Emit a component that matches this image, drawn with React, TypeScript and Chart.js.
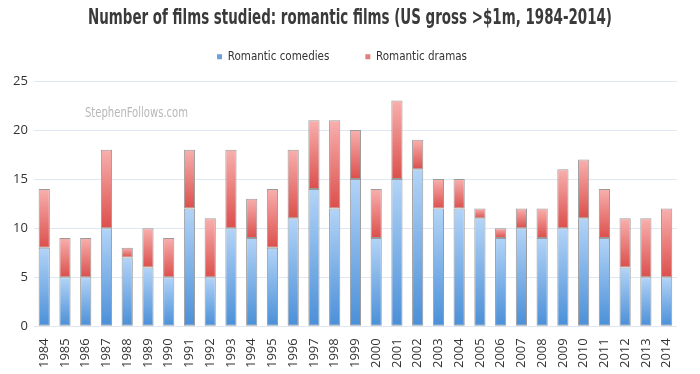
import React, { useEffect, useRef } from "react";
import { Chart, registerables } from "chart.js";

Chart.register(...registerables);

const years = ["1984","1985","1986","1987","1988","1989","1990","1991","1992","1993","1994","1995","1996","1997","1998","1999","2000","2001","2002","2003","2004","2005","2006","2007","2008","2009","2010","2011","2012","2013","2014"];
const comedies = [8,5,5,10,7,6,5,12,5,10,9,8,11,14,12,15,9,15,16,12,12,11,9,10,9,10,11,9,6,5,5];
const dramas = [6,4,4,8,1,4,4,6,6,8,4,6,7,7,9,5,5,8,3,3,3,1,1,2,3,6,6,5,5,6,7];
const yTicks = [0, 5, 10, 15, 20, 25];
const titleText = "Number of films studied: romantic films (US gross >$1m, 1984-2014)";
const watermarkText = "StephenFollows.com";

const COND = "'DejaVu Sans Condensed', 'Liberation Sans', sans-serif";

function segGradient(ctx: any, light: string, dark: string, fallback: string, base: number[] | null) {
  const chart = ctx.chart;
  const y = chart.scales && chart.scales.y;
  if (!chart.chartArea || !y || ctx.type !== "data") return fallback;
  const i = ctx.dataIndex;
  const v = ctx.raw as number;
  const start = base ? base[i] : 0;
  const top = y.getPixelForValue(start + v);
  const bottom = y.getPixelForValue(start);
  if (!isFinite(top) || !isFinite(bottom) || top === bottom) return fallback;
  const g = chart.ctx.createLinearGradient(0, top, 0, bottom);
  g.addColorStop(0, light);
  g.addColorStop(1, dark);
  return g;
}

function drawSqueezed(c: CanvasRenderingContext2D, text: string, cx: number, cy: number, font: string, color: string, targetW: number, align: "center" | "left") {
  c.save();
  c.font = font;
  c.fillStyle = color;
  c.textBaseline = "middle";
  c.textAlign = "left";
  const w = c.measureText(text).width;
  const s = targetW / w;
  const x0 = align === "center" ? cx - targetW / 2 : cx;
  c.translate(x0, cy);
  c.scale(s, 1);
  c.fillText(text, 0, 0);
  c.restore();
}

const decorations = {
  id: "decorations",
  beforeInit(chart: any) {
    const lg = chart.legend;
    if (lg) {
      const orig = lg.fit;
      lg.fit = function () {
        orig.call(this);
        this.height = 66;
      };
    }
  },
  afterDraw(chart: any) {
    const c = chart.ctx as CanvasRenderingContext2D;
    drawSqueezed(c, titleText, 350, 19, "bold 21px " + COND, "#3a3a3a", 524, "center");
  },
  afterDatasetsDraw(chart: any) {
    const c = chart.ctx as CanvasRenderingContext2D;
    drawSqueezed(c, watermarkText, 85, 113, "14px " + COND, "#b8b8b8", 103, "left");
  },
};

export default function App() {
  const ref = useRef<HTMLCanvasElement>(null);
  useEffect(() => {
    document.body.style.margin = "0";
    const chart = new Chart(ref.current!, {
      type: "bar",
      data: {
        labels: years,
        datasets: [
          {
            label: "Romantic comedies",
            data: comedies,
            backgroundColor: (ctx: any) => segGradient(ctx, "#b3d4f7", "#4a8fd8", "#7fb1ea", null),
            borderColor: "#9a9a9a",
            borderWidth: 1,
            borderSkipped: false,
            barPercentage: 0.54,
            categoryPercentage: 1,
          },
          {
            label: "Romantic dramas",
            data: dramas,
            backgroundColor: (ctx: any) => segGradient(ctx, "#f8b0ae", "#db4f4c", "#ec8a88", comedies),
            borderColor: "#9a9a9a",
            borderWidth: 1,
            borderSkipped: false,
            barPercentage: 0.54,
            categoryPercentage: 1,
          },
        ],
      },
      options: {
        animation: false,
        responsive: false,
        maintainAspectRatio: false,
        layout: { padding: { left: 7, right: 23, top: 15, bottom: 2 } },
        plugins: {
          title: { display: false },
          legend: {
            display: true,
            position: "top",
            labels: {
              color: "#333",
              font: { family: COND, size: 11.5 },
              boxWidth: 5,
              boxHeight: 5,
              padding: 36,
              generateLabels: (ch: any) =>
                ch.data.datasets.map((ds: any, i: number) => ({
                  text: ds.label,
                  fillStyle: i === 0 ? "#6d9fdc" : "#e07f7d",
                  strokeStyle: i === 0 ? "#6d9fdc" : "#e07f7d",
                  lineWidth: 0,
                  hidden: false,
                  datasetIndex: i,
                  fontColor: "#333",
                })),
            },
          },
          tooltip: { enabled: false },
        },
        scales: {
          x: {
            stacked: true,
            grid: { display: false },
            border: { display: false },
            ticks: {
              color: "#333",
              font: { family: "'Open Sans', sans-serif", size: 13 },
              minRotation: 90,
              maxRotation: 90,
              autoSkip: false,
              padding: 4,
            },
          },
          y: {
            stacked: true,
            min: 0,
            max: 25,
            afterBuildTicks: (axis: any) => {
              axis.ticks = yTicks.map((v) => ({ value: v }));
            },
            grid: { color: "#dfe8f2", drawTicks: false },
            border: { display: false },
            ticks: {
              color: "#333",
              font: { family: "'Open Sans', sans-serif", size: 13 },
              padding: 6,
            },
          },
        },
      },
      plugins: [decorations],
    });
    return () => chart.destroy();
  }, []);
  return (
    <div style={{ position: "fixed", left: 0, top: 0, width: 700, height: 374, background: "#fff" }}>
      <canvas ref={ref} width={700} height={374} />
    </div>
  );
}
